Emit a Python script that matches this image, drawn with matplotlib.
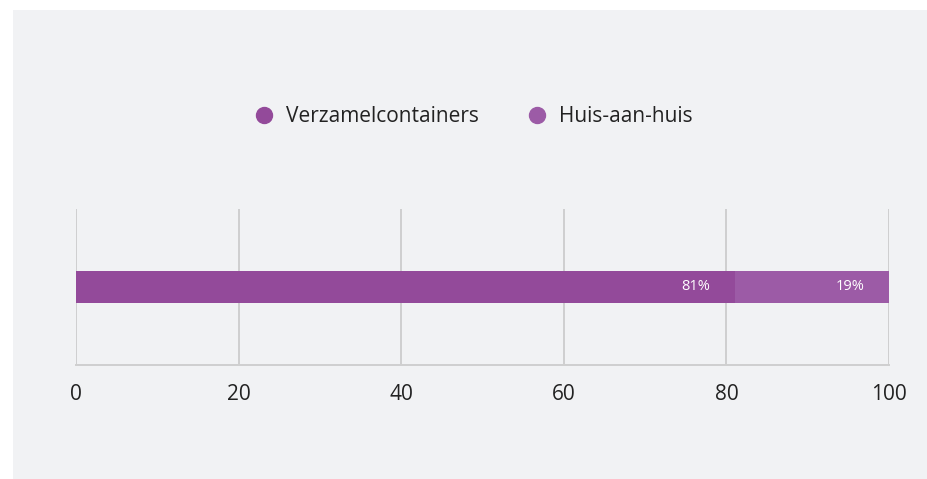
import matplotlib.pyplot as plt
from matplotlib.patches import Rectangle
from matplotlib.lines import Line2D

# data
series = ['Verzamelcontainers', 'Huis-aan-huis']
values = [81, 19]
colors = ['#934a9a', '#9c5ba6']
ticks = [0, 20, 40, 60, 80, 100]

plt.rcParams['font.family'] = ['Open Sans', 'DejaVu Sans']

fig = plt.figure(figsize=(9.28, 4.79), dpi=100)
fig.patch.set_facecolor('white')
# grey panel
fig.patches.append(Rectangle((13 / 928, 0), 1, 1 - 10 / 479, transform=fig.transFigure,
                             facecolor='#f1f2f4', edgecolor='none', zorder=-1))

ax = fig.add_axes([76 / 928, 114 / 479, (889 - 76) / 928, (365 - 209) / 479])
ax.set_facecolor('none')
ax.set_zorder(2)

left = 0
for name, v, c in zip(series, values, colors):
    ax.barh(0.5, v, left=left, height=0.2, color=c, label=name, zorder=3)
    ax.text(left + v - 3.0, 0.5, f'{v}%', color='white', fontsize=10.5,
            ha='right', va='center', zorder=4)
    left += v

ax.set_xlim(0, 100)
ax.set_ylim(0, 1)
ax.set_xticks(ticks)
ax.set_xticklabels([str(t) for t in ticks], fontsize=15, color='#222222')
ax.set_yticks([])
ax.tick_params(axis='x', length=0, pad=14)
ax.grid(axis='x', color='#cfcfcf', linewidth=1.4, zorder=1)
for s in ['top', 'right', 'left']:
    ax.spines[s].set_visible(False)
ax.spines['bottom'].set_color('#cfcfcf')
ax.spines['bottom'].set_linewidth(1.4)

handles = [Line2D([], [], marker='o', linestyle='none', markersize=11.5,
                  markerfacecolor=c, markeredgecolor=c) for c in colors]
fig.legend(handles, series, loc='center', bbox_to_anchor=(468 / 928, 1 - 117 / 479),
           ncol=2, frameon=False, fontsize=15, handletextpad=0.05,
           columnspacing=1.8, labelcolor='#222222')

fig.savefig('out.png', dpi=100)
